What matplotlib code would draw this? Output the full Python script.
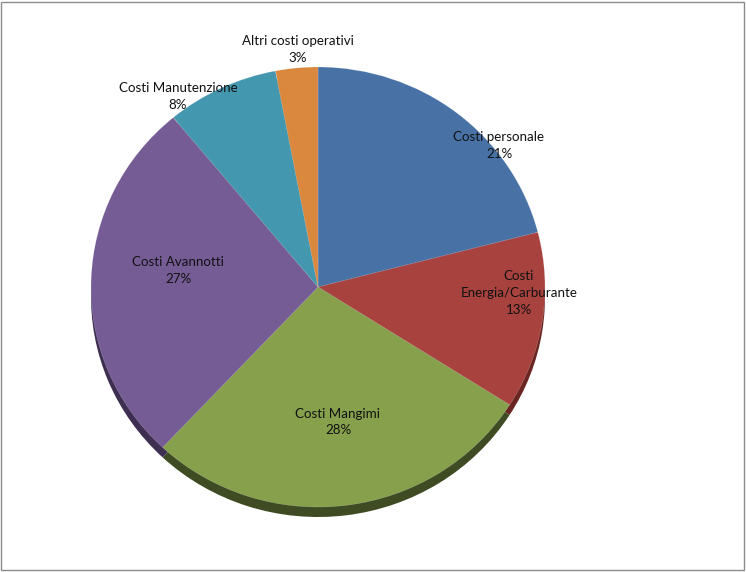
import matplotlib.pyplot as plt
import matplotlib.patches as mpatches

# cost breakdown, clockwise from 12 o'clock
labels = ["Costi personale", "Costi\nEnergia/Carburante", "Costi Mangimi",
          "Costi Avannotti", "Costi Manutenzione", "Altri costi operativi"]
shares = [21, 13, 28, 27, 8, 3]

top_colors = ["#4872A6", "#A8423F", "#86A04C", "#765C95", "#4397AF", "#D9883E"]
side_colors = ["#2A4468", "#6A2523", "#3F4B22", "#3E2F52", "#245A69", "#8A5322"]

# label anchor points in pixels (best-fit placement of the original)
label_px = [(499, 146), (519, 293), (338, 422), (178, 271), (178, 97), (298, 50)]

W, H = 746, 572
cx, cy = 318, 287      # pie apex in pixels
rx, ry = 227, 220      # ellipse radii in pixels
depth = 10 / ry        # visible thickness of the tilted pie

fig = plt.figure(figsize=(W / 100, H / 100), dpi=100)
ax = fig.add_axes([0, 0, 1, 1])

ax.pie(shares, colors=side_colors, startangle=90, counterclock=False,
       center=(0, -depth), wedgeprops=dict(linewidth=0))
ax.pie(shares, colors=top_colors, startangle=90, counterclock=False,
       center=(0, 0), wedgeprops=dict(linewidth=0.3, edgecolor="#ffffff60"))

ax.set_aspect("auto")
ax.set_xlim((0 - cx) / rx, (W - cx) / rx)
ax.set_ylim((cy - H) / ry, cy / ry)
ax.axis("off")

for lab, v, (px, py) in zip(labels, shares, label_px):
    ax.text((px - cx) / rx, (cy - py) / ry, f"{lab}\n{v}%",
            ha="center", va="center", fontsize=9.6, family="Lato",
            linespacing=1.5, color="#111111")

fig.patches.append(mpatches.Rectangle((1 / W, 2 / H), (W - 3) / W, (H - 4) / H,
                                      transform=fig.transFigure, fill=False,
                                      edgecolor="#8c8c8c", linewidth=1))

fig.savefig("out.png", dpi=100)
